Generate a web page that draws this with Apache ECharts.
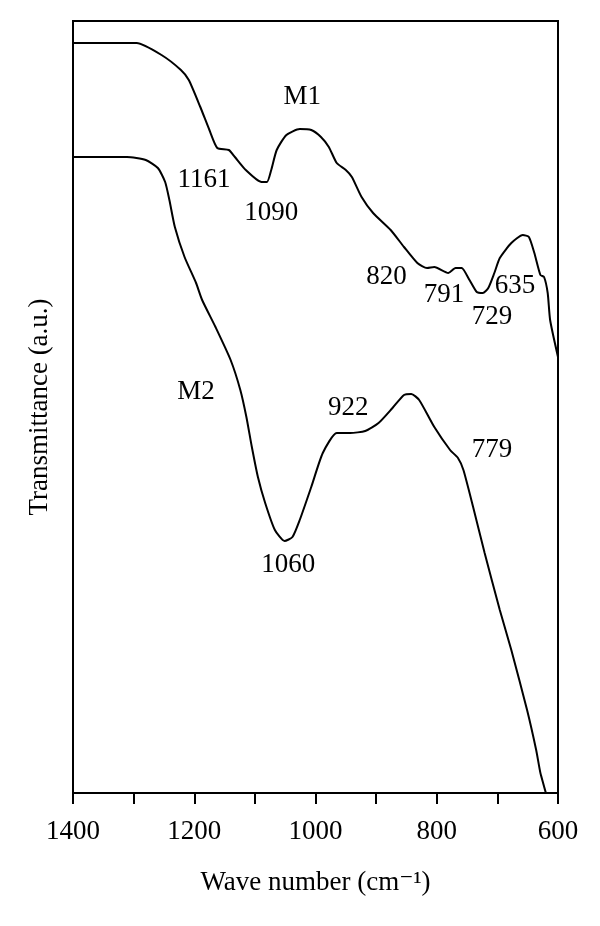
<!DOCTYPE html>
<html>
<head>
<meta charset="utf-8">
<script src="https://cdn.jsdelivr.net/npm/echarts@6/dist/echarts.min.js"></script>
<style>
html,body{margin:0;padding:0;background:#fff;}
#chart{width:600px;height:926px;}
</style>
</head>
<body>
<div id="chart"></div>
<script>
// Wavenumber (cm^-1) and transmittance (arbitrary units)
const m1Wave = [1400,1295,1254,1222,1209,1190,1175,1162,1143,1133,1115,1089,1080,1073,1064,1048,1026,1007,991,978,965,950,940,924,905,876,854,832,816,804,781,769,759,746,734,724,715,705,696,677,658,648,639,629,623,617,613,600];
const m1Trans = [750,750,738,723,713,686,663,645,643,636,623,611,611,623,643,658,664,663,656,646,630,623,616,596,580,563,546,530,525,526,520,525,525,513,501,500,505,520,535,550,558,556,540,518,516,500,473,436];
const m2Wave = [1400,1311,1280,1260,1248,1241,1232,1216,1197,1187,1165,1140,1124,1114,1105,1095,1083,1067,1051,1038,1026,1007,988,965,943,918,896,873,854,842,829,804,778,765,756,740,721,696,677,651,636,629,620];
const m2Trans = [636,636,633,625,611,593,566,536,510,493,466,433,403,376,346,316,290,263,252,256,273,306,340,360,360,362,370,385,398,399,393,366,343,335,323,286,240,183,143,83,43,20,0];
const noteText = ['M1','1161','1090','820','791','635','729','M2','922','779','1060'];
const noteWave = [1022,1184,1073,883,788,671,709,1197,946,709,1045];
const noteTrans = [696,613,580,516,498,507,476,401,385,343,228];
const xTicks = [1400,1200,1000,800,600];

const FONT = '"Liberation Serif", "DejaVu Serif", serif';
const FS = 27;
const zip = (a,b) => a.map((v,i)=>[v,b[i]]);

const chart = echarts.init(document.getElementById('chart'), null, {renderer:'canvas'});
chart.setOption({
  animation:false,
  backgroundColor:'#fff',
  grid:{left:73,right:42,top:21,bottom:133,show:true,borderColor:'#000',borderWidth:2,backgroundColor:'transparent'},
  xAxis:{
    type:'value',min:600,max:1400,interval:100,inverse:true,
    axisLine:{show:true,lineStyle:{color:'#000',width:2}},
    axisTick:{show:true,inside:false,length:11,lineStyle:{color:'#000',width:2}},
    splitLine:{show:false},
    axisLabel:{color:'#000',fontFamily:FONT,fontSize:FS,margin:25,
      formatter:v=>xTicks.includes(v)?String(v):''},
    name:'Wave number (cm⁻¹)',nameLocation:'middle',nameGap:76,
    nameTextStyle:{color:'#000',fontFamily:FONT,fontSize:FS}
  },
  yAxis:{
    type:'value',min:0,max:772,
    axisLine:{show:false},axisTick:{show:false},axisLabel:{show:false},splitLine:{show:false},
    name:'Transmittance (a.u.)',nameLocation:'middle',nameGap:20,
    nameTextStyle:{color:'#000',fontFamily:FONT,fontSize:FS}
  },
  series:[
    {type:'line',data:zip(m1Wave,m1Trans),smooth:0.2,showSymbol:false,lineStyle:{color:'#000',width:2},silent:true},
    {type:'line',data:zip(m2Wave,m2Trans),smooth:0.2,showSymbol:false,lineStyle:{color:'#000',width:2},silent:true},
    {type:'scatter',symbolSize:0,silent:true,itemStyle:{opacity:1,color:'#000'},
      data:noteText.map((t,i)=>[noteWave[i],noteTrans[i],t]),
      label:{show:true,position:'inside',formatter:p=>p.value[2],color:'#000',opacity:1,textBorderWidth:0,fontFamily:FONT,fontSize:FS}}
  ]
});
</script>
</body>
</html>
